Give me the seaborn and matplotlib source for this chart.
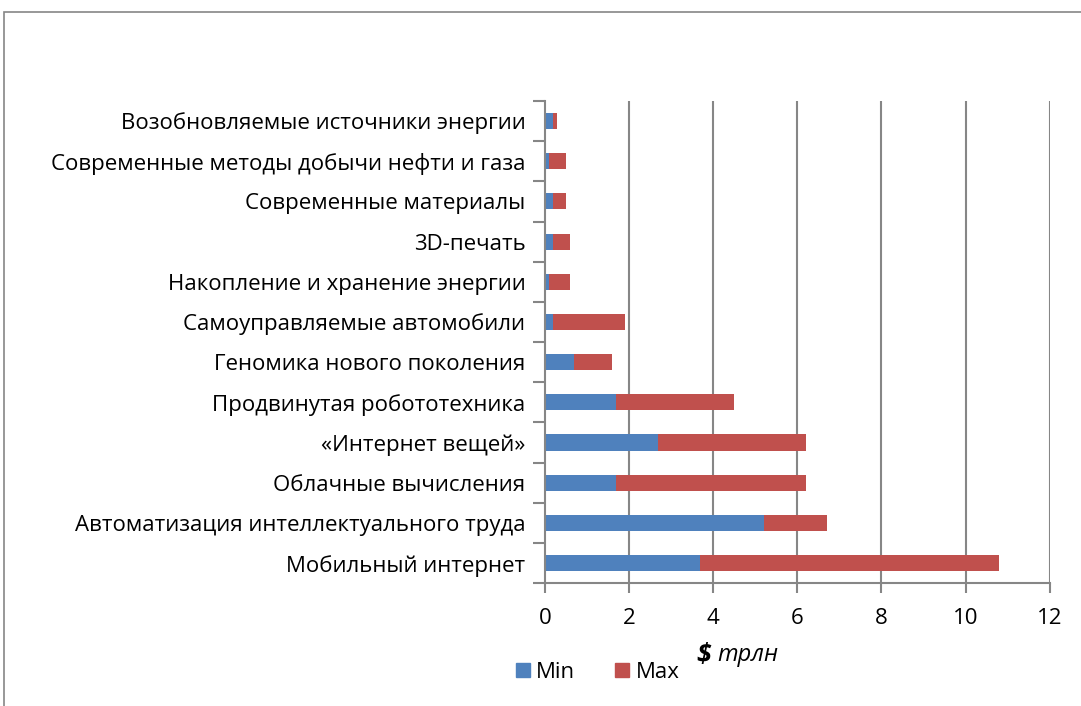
import numpy as np
import pandas as pd
import matplotlib
matplotlib.use("Agg")
import matplotlib.pyplot as plt
from matplotlib.patches import Rectangle, Patch
import seaborn as sns

### Data (top to bottom, as on the chart)
categories = [
    "Возобновляемые источники энергии",
    "Современные методы добычи нефти и газа",
    "Современные материалы",
    "3D-печать",
    "Накопление и хранение энергии",
    "Самоуправляемые автомобили",
    "Геномика нового поколения",
    "Продвинутая робототехника",
    "«Интернет вещей»",
    "Облачные вычисления",
    "Автоматизация интеллектуального труда",
    "Мобильный интернет",
]
min_values = [0.2, 0.1, 0.2, 0.2, 0.1, 0.2, 0.7, 1.7, 2.7, 1.7, 5.2, 3.7]
max_values = [0.3, 0.5, 0.5, 0.6, 0.6, 1.9, 1.6, 4.5, 6.2, 6.2, 6.7, 10.8]
x_ticks = [0, 2, 4, 6, 8, 10, 12]

blue = "#4F81BD"
red = "#C0504D"
grey = "#868686"

df = pd.DataFrame({"cat": categories, "min": min_values, "max": max_values})

sns.set_style("white")
plt.rcParams["font.family"] = ["Open Sans", "DejaVu Sans"]
plt.rcParams["text.color"] = "black"
plt.rcParams["xtick.color"] = grey
plt.rcParams["ytick.color"] = grey
plt.rcParams["xtick.labelcolor"] = "black"
plt.rcParams["ytick.labelcolor"] = "black"

fig = plt.figure(figsize=(10.81, 7.06), dpi=100)
ax = fig.add_axes([0.504, 0.174, 0.467, 0.683])

# Max bar drawn first, Min bar over it -> stacked look
sns.barplot(data=df, x="max", y="cat", color=red, width=0.4, saturation=1, linewidth=0, ax=ax)
sns.barplot(data=df, x="min", y="cat", color=blue, width=0.4, saturation=1, linewidth=0, ax=ax)

ax.set_xlim(0, 12)
ax.set_ylim(len(categories) - 0.5, -0.5)
ax.set_xticks(x_ticks)
ax.set_xticklabels([str(t) for t in x_ticks], fontsize=16)
ax.set_xlabel("")
ax.set_ylabel("")
ax.tick_params(axis="x", bottom=True, direction="out", length=7, width=1.5, pad=11)
ax.tick_params(axis="y", which="major", left=True, length=0, labelsize=16, pad=14)
ax.set_yticks(np.arange(-0.5, len(categories), 1), minor=True)
ax.tick_params(axis="y", which="minor", left=True, direction="out", length=9, width=1.5)

for t in x_ticks[1:]:
    ax.axvline(t, color=grey, lw=1.5, zorder=0)
for s in ["top", "right"]:
    ax.spines[s].set_visible(False)
for s in ["left", "bottom"]:
    ax.spines[s].set_color(grey)
    ax.spines[s].set_linewidth(1.5)

# axis title
fig.text(0.644, 0.072, "$", fontsize=19, fontweight="bold", fontstyle="italic",
         ha="left", va="center")
fig.text(0.664, 0.072, "трлн", fontsize=17, fontstyle="italic", ha="left", va="center")

# legend
handles = [Patch(color=blue, label="Min"), Patch(color=red, label="Max")]
fig.legend(handles=handles, loc="center", bbox_to_anchor=(0.553, 0.048), ncol=2,
           frameon=False, fontsize=16, handlelength=0.6, handleheight=0.6,
           handletextpad=0.3, columnspacing=1.8)

# outer chart border
fig.patches.append(Rectangle((4 / 1081, -0.05), 1.2, 0.983 + 0.05, transform=fig.transFigure,
                             fill=False, edgecolor=grey, lw=1.2))

fig.savefig("out.png", dpi=100)
